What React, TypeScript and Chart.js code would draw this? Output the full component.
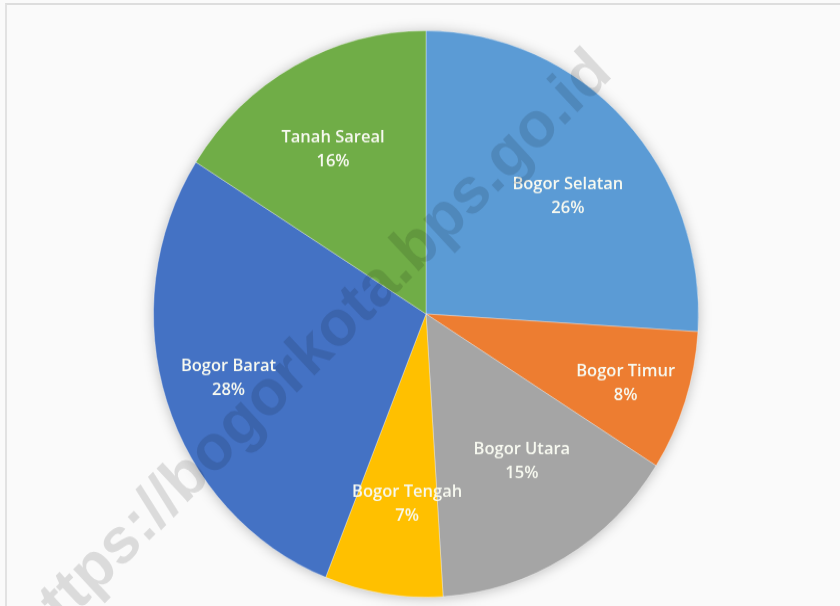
import React, { useEffect, useRef } from "react";
import { Chart, registerables } from "chart.js";

Chart.register(...registerables);

const categories = ["Bogor Selatan", "Bogor Timur", "Bogor Utara", "Bogor Tengah", "Bogor Barat", "Tanah Sareal"];
const shares = [26, 8, 15, 7, 28, 16];
const percentLabels = ["26%", "8%", "15%", "7%", "28%", "16%"];
const sliceColors = ["#5B9BD5", "#ED7D31", "#A5A5A5", "#FFC000", "#4472C4", "#70AD47"];
const watermarkText = "https://bogorkota.bps.go.id";

const CANVAS_W = 840;
const CANVAS_H = 583;
const SCALE_Y = 606 / 583;

// label placement: fraction of radius and angular nudge (degrees) from the slice middle
const labelRadius = [0.666, 0.773, 0.629, 0.673, 0.759, 0.674];
const labelAngleShift = [4.6, 0.6, -3.4, -3.1, 0.7, -1.6];

const shadowPlugin = {
  id: "pieShadow",
  beforeDatasetsDraw(chart: any) {
    const meta = chart.getDatasetMeta(0);
    const arc = meta.data[0];
    if (!arc) return;
    const { x, y, outerRadius } = arc.getProps(["x", "y", "outerRadius"], true);
    const ctx = chart.ctx;
    ctx.save();
    ctx.shadowColor = "rgba(0,0,0,0.28)";
    ctx.shadowBlur = 14;
    ctx.shadowOffsetX = 0;
    ctx.shadowOffsetY = 1;
    ctx.fillStyle = "#999";
    ctx.beginPath();
    ctx.arc(x, y, outerRadius - 1, 0, Math.PI * 2);
    ctx.fill();
    ctx.restore();
  },
};

const labelPlugin = {
  id: "sliceLabels",
  afterDatasetsDraw(chart: any) {
    const meta = chart.getDatasetMeta(0);
    const ctx = chart.ctx;
    ctx.save();
    ctx.fillStyle = "#F7F9F0";
    ctx.textAlign = "center";
    ctx.textBaseline = "middle";
    ctx.font = "600 16.5px 'Open Sans', sans-serif";
    meta.data.forEach((arc: any, i: number) => {
      const { x, y, startAngle, endAngle, outerRadius } = arc.getProps(
        ["x", "y", "startAngle", "endAngle", "outerRadius"],
        true
      );
      const mid = (startAngle + endAngle) / 2 + (labelAngleShift[i] * Math.PI) / 180;
      const r = outerRadius * labelRadius[i];
      const cx = x + Math.cos(mid) * r;
      const cy = y + Math.sin(mid) * r;
      ctx.fillText(categories[i], cx, cy - 11.5);
      ctx.fillText(percentLabels[i], cx, cy + 11.5);
    });
    ctx.restore();
  },
  afterDraw(chart: any) {
    const ctx = chart.ctx;
    ctx.save();
    ctx.translate(313, 352 / SCALE_Y);
    ctx.rotate(-Math.atan2(1 / SCALE_Y, 1));
    ctx.fillStyle = "rgba(0,0,0,0.12)";
    ctx.font = "bold 62px 'Liberation Sans', Arial, sans-serif";
    ctx.textAlign = "center";
    ctx.textBaseline = "middle";
    ctx.fillText(watermarkText, 0, 0);
    ctx.restore();
  },
};

export default function App() {
  const canvasRef = useRef<HTMLCanvasElement | null>(null);

  useEffect(() => {
    if (!canvasRef.current) return;
    const chart = new Chart(canvasRef.current, {
      type: "pie",
      data: {
        labels: categories,
        datasets: [
          {
            data: shares,
            backgroundColor: sliceColors,
            borderColor: "rgba(255,255,255,0.35)",
            borderWidth: 1,
          },
        ],
      },
      options: {
        responsive: false,
        maintainAspectRatio: false,
        animation: false,
        devicePixelRatio: 1,
        layout: { padding: { left: 153, right: 141, top: 29, bottom: 8 } },
        plugins: {
          legend: { display: false },
          tooltip: { enabled: false },
          title: { display: false },
        },
      },
      plugins: [shadowPlugin, labelPlugin],
    } as any);
    return () => chart.destroy();
  }, []);

  return (
    <div
      style={{
        position: "fixed",
        left: 0,
        top: 0,
        width: 840,
        height: 606,
        background: "#FAFAFA",
        overflow: "hidden",
      }}
    >
      <div
        style={{
          position: "absolute",
          left: 5,
          top: 3,
          right: 0,
          bottom: 0,
          borderTop: "2px solid #DDDDDD",
          borderLeft: "2px solid #E2E2E2",
        }}
      />
      <canvas
        ref={canvasRef}
        width={CANVAS_W}
        height={CANVAS_H}
        style={{
          position: "absolute",
          left: 0,
          top: 0,
          width: CANVAS_W,
          height: CANVAS_H,
          transform: `scaleY(${SCALE_Y})`,
          transformOrigin: "0 0",
        }}
      />
    </div>
  );
}
